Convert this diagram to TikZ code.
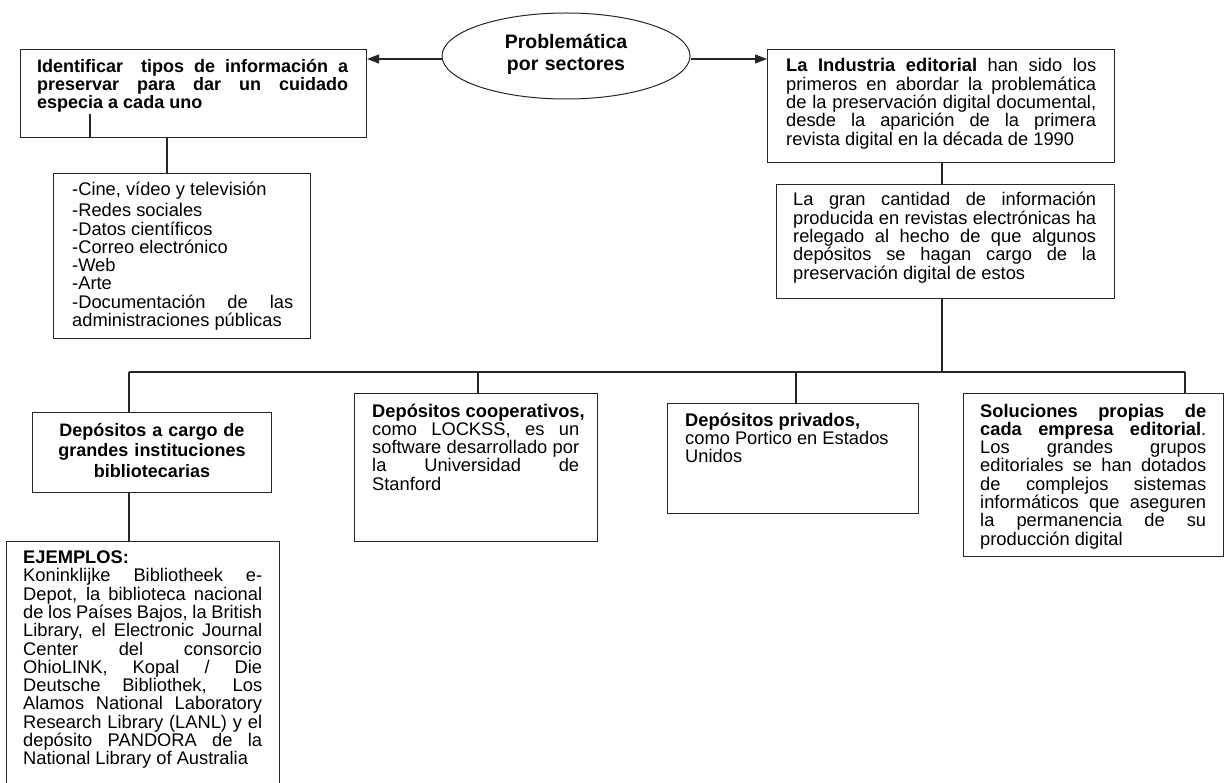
\documentclass[tikz,border=0pt]{standalone}
\usepackage{fontspec}
\setmainfont{Liberation Sans}
\usetikzlibrary{arrows.meta,shapes.geometric}
\newcommand{\JL}[1]{\leavevmode\hbox to \hsize{\spaceskip=0pt\xspaceskip=0pt #1}}
\hbadness=10000
\hfuzz=50pt
\begin{document}
\global\lineskiplimit=-100pt
\begin{tikzpicture}[x=1pt,y=-1pt,
  box/.style={draw=black!85,line width=1.1pt,rectangle,inner sep=0pt,anchor=north west},
  txt/.style={anchor=base west,inner sep=0pt,align=justify,font=\fontsize{18.3}{18.3}\selectfont},
  ctxt/.style={anchor=base,inner sep=0pt,align=center,font=\fontsize{18}{20.5}\selectfont\bfseries},
  conn/.style={draw=black!85,line width=1.1pt},
  arr/.style={conn,-{Triangle[length=12pt,width=9pt]}}]
\fill[white] (0,0) rectangle (1225,783);
\useasboundingbox (0,0) rectangle (1225,783);

% boxes
\node[box,minimum width=346pt,minimum height=88pt] (tl) at (20,49) {};
\node[box,minimum width=257pt,minimum height=165pt] (list) at (53,173) {};
\node[box,minimum width=347pt,minimum height=113pt] (tr) at (767,49) {};
\node[box,minimum width=338pt,minimum height=114pt] (b2) at (776,184) {};
\node[box,minimum width=239pt,minimum height=80pt] (d1) at (32,412) {};
\node[box,minimum width=273pt,minimum height=260pt] (ej) at (6,541) {};
\node[box,minimum width=243pt,minimum height=148pt] (d2) at (354,393) {};
\node[box,minimum width=251pt,minimum height=110pt] (d3) at (667,403) {};
\node[box,minimum width=260pt,minimum height=163pt] (d4) at (963,393) {};
\node[draw=black!85,line width=1pt,ellipse,minimum width=248pt,minimum height=86pt,inner sep=0pt] (ell) at (566,56) {};

% coordinates
\coordinate (c1) at (167,0);
\coordinate (bus) at (942,372);
\coordinate (j1) at (129,372);
\coordinate (j2) at (478,372);
\coordinate (j3) at (796,372);
\coordinate (j4) at (1185,372);

% connectors
\draw[arr] ([yshift=-3pt]ell.west) -- ([yshift=-3pt]ell.west -| tl.east);
\draw[arr] ([yshift=-3pt]ell.east) -- ([yshift=-3pt]ell.east -| tr.west);
\draw[conn] ([xshift=70pt]tl.south west) -- ++(0,-24);
\draw[conn] (tl.south -| c1) -- (list.north -| c1);
\draw[conn] (tr.south -| bus) -- (b2.north -| bus);
\draw[conn] (b2.south -| bus) -- (bus);
\draw[conn] (j1) -- (j4);
\draw[conn] (j1) -- (j1 |- d1.north);
\draw[conn] (j2) -- (j2 |- d2.north);
\draw[conn] (j3) -- (j3 |- d3.north);
\draw[conn] (j4) -- (j4 |- d4.north);
\draw[conn] (j1 |- d1.south) -- (j1 |- ej.north);

% texts
\node[ctxt,font=\fontsize{19.5}{22}\selectfont\bfseries,text width=170pt] (tell) at (566,49) {Problemática\\por sectores};

\node[txt,text width=311pt,font=\fontsize{18}{17.7}\selectfont\bfseries] (ttl) at (37,73) {\JL{Identificar\hspace{8pt} tipos de información a}\\
\JL{preservar para dar un cuidado}\\
\mbox{especia a cada uno}};

\node[txt,text width=221pt] (tlist) at (72,196) {\mbox{-Cine, vídeo y televisión}\\[2.5pt]
\mbox{-Redes sociales}\\
\mbox{-Datos científicos}\\
\mbox{-Correo electrónico}\\
-Web\\
-Arte\\
\JL{-Documentación de las}\\
\mbox{administraciones públicas}};

\node[txt,text width=310pt] (ttr) at (786,72) {\JL{\textbf{La Industria editorial} han sido los}\\
\JL{primeros en abordar la problemática}\\
\JL{de la preservación digital documental,}\\
\JL{desde la aparición de la primera}\\
\mbox{revista digital en la década de 1990}};

\node[txt,text width=303pt] (tb2) at (793,206) {\JL{La gran cantidad de información}\\
\JL{producida en revistas electrónicas ha}\\
\JL{relegado al hecho de que algunos}\\
\JL{depósitos se hagan cargo de la}\\
\mbox{preservación digital de estos}};

\node[ctxt,text width=230pt] (td1) at (152,436) {Depósitos a cargo de\\grandes instituciones\\bibliotecarias};

\node[txt,text width=239pt] (tej) at (23,563) {\textbf{EJEMPLOS:}\\[0.5pt]
\JL{Koninklijke Bibliotheek e-}\\
\JL{Depot, la biblioteca nacional}\\
\JL{de los Países Bajos, la British}\\
\JL{Library, el Electronic Journal}\\
\JL{Center del consorcio}\\
\JL{OhioLINK, Kopal / Die}\\
\JL{Deutsche Bibliothek, Los}\\
\JL{Alamos National Laboratory}\\
\JL{Research Library (LANL) y el}\\
\JL{depósito PANDORA de la}\\
\mbox{National Library of Australia}};

\node[txt,text width=207pt] (td2) at (372,417) {\mbox{\textbf{Depósitos cooperativos,}}\\
\JL{como LOCKSS, es un}\\
\JL{software desarrollado por}\\
\JL{la Universidad de}\\
Stanford};

\node[txt,text width=225pt] (td3) at (685,426) {\mbox{\textbf{Depósitos privados,}}\\
\mbox{como Portico en Estados}\\
Unidos};

\node[txt,text width=226pt] (td4) at (980,417) {\JL{\textbf{Soluciones propias de}}\\
\JL{\textbf{cada empresa editorial}.}\\
\JL{Los grandes grupos}\\
\JL{editoriales se han dotados}\\
\JL{de complejos sistemas}\\
\JL{informáticos que aseguren}\\
\JL{la permanencia de su}\\
\mbox{producción digital}};
\end{tikzpicture}
\end{document}
